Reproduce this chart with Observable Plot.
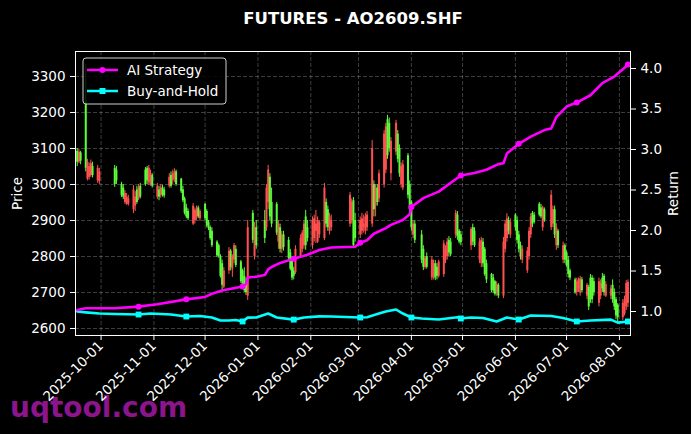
<!DOCTYPE html>
<html><head><meta charset="utf-8">
<script src="https://cdn.jsdelivr.net/npm/d3@7"></script>
<script src="https://cdn.jsdelivr.net/npm/@observablehq/plot@0.6"></script>
<style>
html,body{margin:0;padding:0;background:#000;}
#chart{width:691px;height:434px;overflow:hidden;}
</style></head><body><div id="chart"></div>
<script>
const title = "FUTURES - AO2609.SHF";
const watermark = "uqtool.com";
const firstDay = "2025-09-17", lastDay = "2026-08-06";
const holidays = ["2025-10-01","2025-10-02","2025-10-03","2025-10-06","2025-10-07","2025-10-08","2026-01-01","2026-01-02","2026-02-16","2026-02-17","2026-02-18","2026-02-19","2026-02-20","2026-02-23","2026-04-06","2026-05-01","2026-05-04","2026-05-05","2026-06-19"];

const open = [3092,3062,3088,3230,3015,3020,3025,3050,3010,3008,
3045,3040,3000,2990,2950,2945,2945,2930,2940,2985,2960,2995,3040,3045,3005,3000,3025,
2965,2985,2970,2990,2985,2995,3025,3010,3015,3035,3015,2985,2960,2935,2925,2890,2900,2910,2935,2905,
2945,2925,2895,2880,2870,2840,2830,2800,2780,2715,2760,2815,2765,2790,2820,2785,2760,2745,2725,2690,2920,2800,2880,
2900,2880,2950,3020,2950,2945,2840,2880,2820,2860,2845,2810,2790,2760,2755,2800,2820,2830,2910,2880,
2830,2850,2870,2840,2860,2850,2950,2930,2870,2880,2890,2900,2955,2900,
2860,2870,2880,2870,2880,2890,3000,2940,2990,2960,3000,3040,3180,3170,3030,3090,3140,3100,3000,2990,3080,3000,
2950,2860,2890,2860,2820,2770,2800,2740,2745,2780,2770,2745,2750,2790,2800,2845,2840,2860,2915,2870,2860,
2830,2880,2870,2790,2780,2840,2820,2780,2750,2740,2730,2700,2720,2690,2820,2850,2900,2860,
2915,2900,2860,2830,2790,2760,2800,2860,2920,2915,2945,2935,2880,2930,2880,2890,2930,2830,2870,2790,2830,
2810,2790,2760,2735,2700,2710,2700,2735,2690,2714,2740,2740,2730,2670,2690,2740,2745,2690,2690,2720,2700,2680,2665,
2630,2640,2660,2670];
const high = [3100,3098,3092,3333,3070,3060,3068,3062,3053,3045,
3053,3050,3006,3000,2983,2975,2970,2997,2980,2995,3000,3003,3047,3050,3053,3040,3030,
3003,2995,3000,2998,2992,3030,3035,3040,3044,3040,3017,2995,2965,2945,2932,2947,2935,2940,2940,2930,
2947,2930,2900,2885,2880,2844,2835,2805,2790,2769,2825,2820,2805,2836,2830,2789,2765,2769,2740,2900,2928,2895,2900,
2928,3000,3053,3030,2990,2950,2900,2890,2870,2870,2853,2820,2800,2770,2830,2860,2872,2900,2928,2900,
2910,2915,2928,2910,2900,3003,2960,2940,2920,2915,2978,2960,2964,2920,
2910,2920,2915,2920,2925,3122,3010,3000,3000,3040,3150,3170,3192,3185,3130,3178,3150,3110,3060,3067,3086,3010,
2955,2900,2900,2872,2830,2800,2810,2800,2790,2789,2780,2790,2844,2830,2850,2855,2850,2928,2925,2875,2870,
2880,2890,2880,2850,2853,2850,2825,2790,2753,2750,2733,2730,2725,2853,2900,2919,2910,2905,
2919,2910,2870,2840,2830,2825,2880,2919,2925,2922,2950,2945,2940,2935,2983,2940,2940,2891,2875,2840,2835,
2815,2800,2765,2740,2740,2740,2745,2742,2725,2720,2750,2747,2740,2740,2735,2753,2750,2730,2720,2735,2710,2686,2669,
2680,2690,2733,2735];
const low = [3050,3058,3055,3035,3010,3012,3020,3018,3003,3000,
2992,3000,2964,2958,2945,2942,2940,2919,2925,2945,2955,2960,2995,3000,2997,2995,2990,
2958,2955,2962,2965,2962,2990,2990,3000,3005,2995,2975,2950,2915,2905,2900,2886,2890,2900,2905,2898,
2900,2880,2872,2845,2825,2797,2795,2740,2705,2711,2750,2760,2742,2780,2769,2725,2712,2700,2692,2678,2836,2790,2820,
2836,2870,2930,2900,2880,2858,2820,2810,2808,2815,2790,2760,2733,2735,2750,2797,2810,2820,2817,2840,
2820,2840,2836,2836,2850,2844,2880,2870,2860,2870,2881,2890,2822,2840,
2850,2860,2865,2860,2870,2881,2910,2910,2940,2950,2990,3030,3070,3090,3010,3080,3060,3020,2990,2983,2960,2920,
2870,2850,2836,2780,2761,2765,2765,2733,2735,2733,2735,2740,2742,2780,2790,2800,2800,2850,2845,2835,2830,
2817,2830,2825,2780,2769,2770,2745,2725,2700,2697,2690,2690,2683,2683,2810,2840,2860,2850,
2870,2835,2810,2790,2780,2753,2790,2850,2880,2890,2910,2905,2870,2895,2872,2880,2850,2817,2822,2780,2780,
2770,2740,2733,2695,2690,2700,2690,2700,2680,2650,2670,2669,2690,2660,2680,2700,2690,2686,2680,2670,2650,2625,2617,
2622,2635,2650,2658];
const close = [3062,3090,3065,3045,3062,3050,3058,3025,3045,3035,
3000,3010,2970,2965,2975,2965,2960,2985,2965,2950,2990,2965,3000,3010,3045,3030,2995,
2995,2965,2990,2970,2968,3020,2995,3030,3035,3000,2980,2955,2920,2910,2905,2940,2928,2932,2910,2925,
2905,2885,2878,2850,2830,2802,2800,2745,2720,2760,2815,2770,2800,2830,2775,2730,2718,2705,2700,2880,2845,2880,2830,
2850,2990,3040,2910,2890,2865,2890,2820,2860,2825,2795,2765,2740,2745,2820,2850,2865,2890,2830,2850,
2900,2905,2890,2900,2895,2990,2890,2880,2910,2900,2970,2950,2830,2850,
2900,2905,2890,2910,2915,3100,2930,2990,2950,3030,3140,3160,3080,3100,3120,3170,3070,3030,3050,3055,2970,2930,
2880,2890,2845,2790,2770,2795,2770,2790,2780,2740,2745,2785,2835,2820,2840,2810,2805,2920,2855,2840,2838,
2875,2840,2830,2840,2845,2780,2750,2735,2705,2705,2695,2722,2690,2840,2890,2905,2870,2895,
2880,2845,2820,2800,2820,2815,2870,2910,2890,2895,2915,2910,2935,2900,2970,2930,2860,2880,2830,2830,2790,
2775,2750,2740,2700,2730,2735,2738,2705,2720,2660,2680,2680,2700,2730,2725,2710,2700,2722,2710,2680,2660,2635,2630,
2670,2680,2725,2728];

const stratDates = ["2025-09-17","2025-09-22","2025-10-09","2025-10-23","2025-11-03","2025-11-20","2025-12-01","2025-12-05","2025-12-11","2025-12-23","2025-12-25","2025-12-26","2025-12-31","2026-01-05","2026-01-07","2026-01-09","2026-01-14","2026-01-22","2026-01-30","2026-02-06","2026-02-13","2026-02-27","2026-03-02","2026-03-06","2026-03-10","2026-03-17","2026-03-20","2026-03-27","2026-03-31","2026-04-01","2026-04-08","2026-04-17","2026-04-30","2026-05-08","2026-05-15","2026-05-22","2026-05-25","2026-05-27","2026-06-03","2026-06-10","2026-06-18","2026-06-22","2026-06-25","2026-07-01","2026-07-07","2026-07-15","2026-07-22","2026-07-29","2026-08-03","2026-08-06"];
const stratValues = [1.02,1.04,1.04,1.06,1.09,1.15,1.18,1.22,1.26,1.31,1.34,1.42,1.43,1.45,1.52,1.55,1.60,1.65,1.70,1.76,1.79,1.80,1.85,1.88,1.96,2.03,2.07,2.13,2.20,2.29,2.40,2.48,2.68,2.71,2.75,2.82,2.83,2.95,3.07,3.16,3.24,3.26,3.40,3.53,3.58,3.67,3.82,3.90,3.99,4.05];
const bhDates = ["2025-09-17","2025-09-22","2025-09-30","2025-10-09","2025-10-23","2025-10-30","2025-11-11","2025-11-20","2025-11-28","2025-12-05","2025-12-10","2025-12-15","2025-12-19","2025-12-23","2025-12-26","2025-12-31","2026-01-07","2026-01-12","2026-01-22","2026-01-28","2026-02-06","2026-02-13","2026-03-02","2026-03-06","2026-03-13","2026-03-17","2026-03-23","2026-03-27","2026-04-01","2026-04-07","2026-04-17","2026-04-28","2026-04-30","2026-05-06","2026-05-13","2026-05-21","2026-05-27","2026-06-03","2026-06-10","2026-06-22","2026-06-29","2026-07-07","2026-07-15","2026-07-27","2026-07-31","2026-08-06"];
const bhValues = [1.0,0.99,0.975,0.97,0.963,0.975,0.963,0.938,0.945,0.926,0.89,0.89,0.895,0.877,0.925,0.926,0.975,0.926,0.90,0.926,0.94,0.938,0.926,0.93,0.975,1.0,1.025,0.975,0.926,0.914,0.901,0.93,0.914,0.926,0.92,0.877,0.926,0.901,0.951,0.945,0.92,0.877,0.89,0.90,0.863,0.877];
const markerDates = ["2025-10-23","2025-11-20","2025-12-23","2026-01-22","2026-03-02","2026-04-01","2026-04-30","2026-06-03","2026-07-07","2026-08-06"];

const seriesNames = ["AI Strategy","Buy-and-Hold"];
const seriesColors = ["#ff00ff","#00ffff"];
const upColor = "#ff5050", downColor = "#5dfc3a";
const monthTicks = ["2025-10-01","2025-11-01","2025-12-01","2026-01-01","2026-02-01","2026-03-01","2026-04-01","2026-05-01","2026-06-01","2026-07-01","2026-08-01"];
const priceTicks = [2600,2700,2800,2900,3000,3100,3200,3300];
const returnTicks = [1.0,1.5,2.0,2.5,3.0,3.5,4.0];
const priceDomain = [2580.6, 3369.4];
const returnDomain = [0.704, 4.21];
const xDomain = ["2025-09-16T00:00Z","2026-08-07T12:00Z"];

const D = s => new Date(s.length === 10 ? s + "T00:00:00Z" : s);
const days = [];
for (let t = D(firstDay); t <= D(lastDay); t = new Date(t.getTime() + 86400000)) {
  const wd = t.getUTCDay(), s = t.toISOString().slice(0,10);
  if (wd === 0 || wd === 6 || holidays.includes(s)) continue;
  days.push(t);
}
const candles = days.map((d,i) => ({date:d, o:open[i], h:high[i], l:low[i], c:close[i]})).filter(d => d.o != null);
const toPrice = r => priceDomain[0] + (r - returnDomain[0]) / (returnDomain[1] - returnDomain[0]) * (priceDomain[1] - priceDomain[0]);
const fromPrice = p => returnDomain[0] + (p - priceDomain[0]) / (priceDomain[1] - priceDomain[0]) * (returnDomain[1] - returnDomain[0]);
const strat = stratDates.map((d,i) => ({date:D(d), v:stratValues[i]}));
const bh = bhDates.map((d,i) => ({date:D(d), v:bhValues[i]}));
const isMarker = d => markerDates.includes(d.date.toISOString().slice(0,10));
const col = d => d.c >= d.o ? upColor : downColor;
const mt = monthTicks.map(D);

const chart = Plot.plot({
  width: 691, height: 434,
  marginLeft: 75, marginRight: 61, marginTop: 51, marginBottom: 99,
  style: {background: "#000", color: "#fff", fontFamily: "DejaVu Sans", fontSize: "13.5px"},
  x: {type: "utc", domain: xDomain.map(D)},
  y: {domain: priceDomain},
  marks: [
    Plot.gridX(mt, {stroke: "#fff", strokeOpacity: 0.3, strokeDasharray: "4,2", strokeWidth: 0.8}),
    Plot.gridY(priceTicks, {stroke: "#fff", strokeOpacity: 0.3, strokeDasharray: "4,2", strokeWidth: 0.8}),
    Plot.ruleX(candles, {x: "date", y1: "l", y2: "h", stroke: col, strokeWidth: 1}),
    Plot.ruleX(candles, {x: "date", y1: "o", y2: "c", stroke: col, strokeWidth: 2}),
    Plot.line(bh, {x: "date", y: d => toPrice(d.v), stroke: seriesColors[1], strokeWidth: 2.6}),
    Plot.dot(bh.filter(isMarker), {x: "date", y: d => toPrice(d.v), symbol: "square", r: 3.3, fill: seriesColors[1]}),
    Plot.line(strat, {x: "date", y: d => toPrice(d.v), stroke: seriesColors[0], strokeWidth: 2.6}),
    Plot.dot(strat.filter(isMarker), {x: "date", y: d => toPrice(d.v), r: 3, fill: seriesColors[0]}),
    Plot.frame({stroke: "#fff", strokeWidth: 1}),
    Plot.axisX(mt, {tickFormat: d3.utcFormat("%Y-%m-%d"), tickRotate: -45, tickSize: 5, tickPadding: 3, label: null, stroke: "#fff"}),
    Plot.axisY(priceTicks, {anchor: "left", tickSize: 5, tickPadding: 5, tickFormat: d => String(d), label: null, stroke: "#fff"}),
    Plot.axisY(returnTicks.map(toPrice), {anchor: "right", tickSize: 5, tickPadding: 5, tickFormat: p => fromPrice(p).toFixed(1), label: null, stroke: "#fff"}),
    Plot.text([title], {frameAnchor: "top", dy: -33, lineAnchor: "middle", fontWeight: "bold", fontSize: 16.5, fill: "#fff"}),
    Plot.text(["Price"], {frameAnchor: "left", dx: -58, rotate: -90, textAnchor: "middle", lineAnchor: "middle", fill: "#fff"}),
    Plot.text(["Return"], {frameAnchor: "right", dx: 43, rotate: -90, textAnchor: "middle", lineAnchor: "middle", fill: "#fff"})
  ]
});
document.getElementById("chart").appendChild(chart);

const svg = d3.select(chart);
svg.insert("text", ":first-child")
  .attr("x", 10).attr("y", 417).attr("text-anchor", "start")
  .attr("font-family", "DejaVu Sans").attr("font-weight", "bold").attr("font-size", 28)
  .attr("fill", "rgb(140,20,140)").text(watermark);

const lg = svg.append("g").attr("text-anchor", "start");
lg.append("rect").attr("x", 83).attr("y", 58).attr("width", 143).attr("height", 46).attr("rx", 3)
  .attr("fill", "#000").attr("fill-opacity", 0.85).attr("stroke", "#cfcfcf").attr("stroke-width", 1);
seriesNames.forEach((name, i) => {
  const y = 70 + i * 21;
  lg.append("line").attr("x1", 87).attr("x2", 118).attr("y1", y).attr("y2", y)
    .attr("stroke", seriesColors[i]).attr("stroke-width", 2.5);
  if (i === 0) lg.append("circle").attr("cx", 102.5).attr("cy", y).attr("r", 3).attr("fill", seriesColors[i]);
  else lg.append("rect").attr("x", 99.5).attr("y", y - 3).attr("width", 6).attr("height", 6).attr("fill", seriesColors[i]);
  lg.append("text").attr("x", 127).attr("y", y).attr("dy", "0.35em").attr("text-anchor", "start")
    .attr("font-family", "DejaVu Sans").attr("font-size", 13.5).attr("fill", "#fff").text(name);
});
</script></body></html>
